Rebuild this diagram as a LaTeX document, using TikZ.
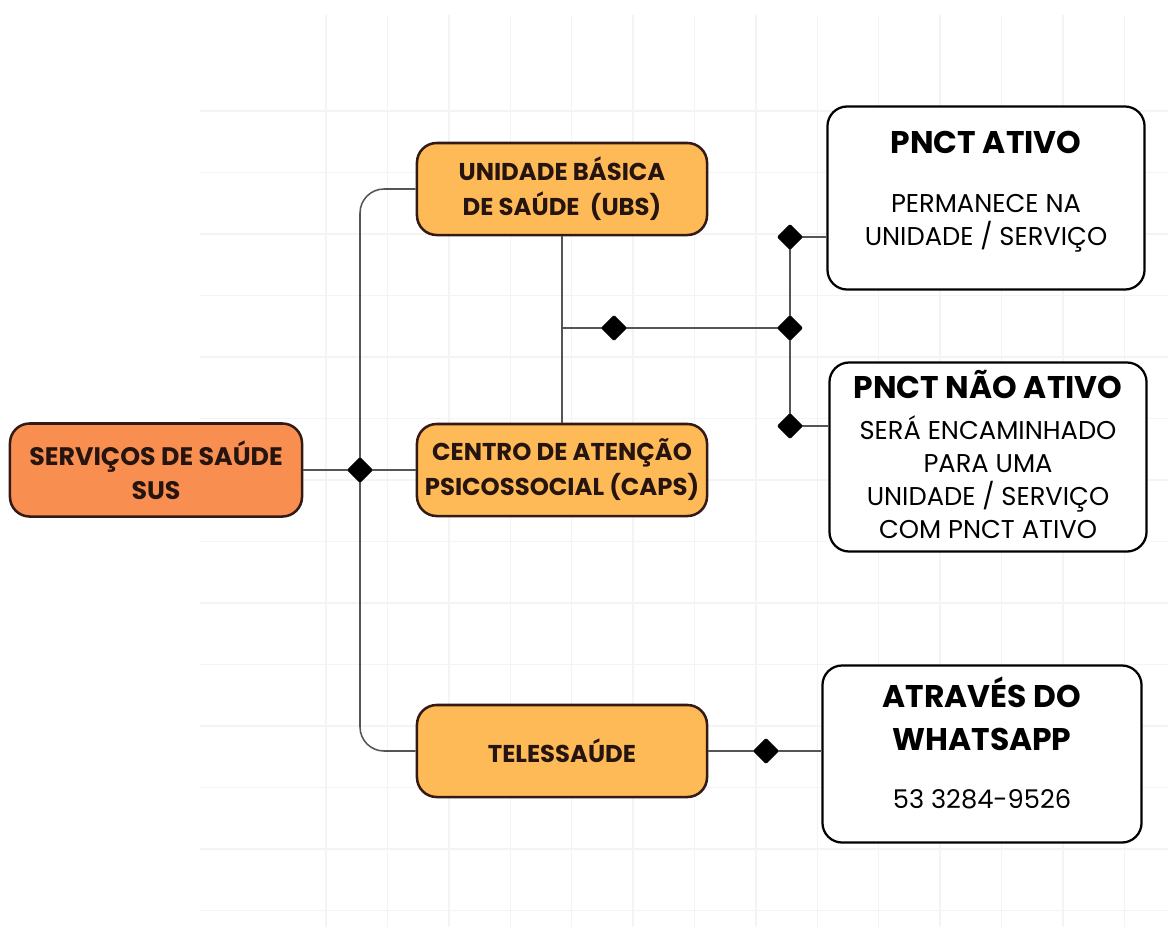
\documentclass[tikz,border=0pt]{standalone}
\usepackage{fontspec}
\setmainfont{Poppins}
\usetikzlibrary{shapes.geometric}
\definecolor{rootorange}{RGB}{248,143,80}
\definecolor{midorange}{RGB}{255,186,88}
\definecolor{boxline}{RGB}{52,26,20}
\definecolor{textbrown}{RGB}{38,20,16}
\definecolor{connline}{RGB}{85,85,85}
\definecolor{gridgray}{RGB}{244,244,244}
\begin{document}
\begin{tikzpicture}
  [x=0.025cm,y=-0.025cm,every node/.style={align=center,inner sep=0pt}]
  \tikzstyle{rootbox} = [draw=boxline,line width=1.8pt,rounded corners=14pt,fill=rootorange,text=textbrown,minimum width=7.3cm,minimum height=2.325cm,font=\fontsize{18}{24}\selectfont\bfseries]
  \tikzstyle{midbox} = [rootbox,fill=midorange,minimum width=7.25cm,minimum height=2.3cm,font=\fontsize{17.3}{25}\selectfont\bfseries]
  \tikzstyle{infobox} = [draw=black,line width=1.6pt,rounded corners=14pt,fill=white,minimum width=7.925cm]
  \tikzstyle{headtext} = [font=\fontsize{22.3}{30.5}\selectfont\bfseries]
  \tikzstyle{bodytext} = [font=\fontsize{18.3}{23.5}\selectfont]
  \tikzstyle{conn} = [draw=connline,line width=1.1pt]
  \tikzstyle{joint} = [diamond,fill=black,minimum size=0.66cm,rounded corners=1pt]
  \useasboundingbox (0,0) rectangle (1168,927);
  % background grid
  \foreach \k in {0,...,13} {
    \draw[gridgray,line width=1pt] (326+61.4*\k,15) -- (326+61.4*\k,927);
    \draw[gridgray,line width=1pt] (200,111+61.5*\k) -- (1168,111+61.5*\k);
  }
  % boxes
  \node[rootbox] (sus)  at (156,470) {SERVIÇOS DE SAÚDE\\SUS};
  \node[midbox]  (ubs)  at (562,189) {UNIDADE BÁSICA\\DE SAÚDE\ \ (UBS)};
  \node[midbox]  (caps) at (562,470) {CENTRO DE ATENÇÃO\\PSICOSSOCIAL (CAPS)};
  \node[midbox]  (tele) at (562,751) {TELESSAÚDE};
  \node[infobox,minimum height=4.575cm] (ativo) at (986,198) {};
  \node[infobox,minimum height=4.725cm] (nao)   at (988,457) {};
  \node[infobox,minimum height=4.425cm,minimum width=7.975cm] (whats) at (982,754) {};
  % box texts
  \node[headtext] (ativoT) at (986,142.5) {PNCT ATIVO};
  \node[bodytext] (ativoB) at (986,223) {PERMANECE NA\\UNIDADE / SERVIÇO};
  \node[headtext] (naoT)   at (988,385) {PNCT NÃO ATIVO};
  \node[bodytext] (naoB)   at (988,477) {SERÁ ENCAMINHADO\\PARA UMA\\UNIDADE / SERVIÇO\\COM PNCT ATIVO};
  \node[headtext] (whatsT) at (982,714) {ATRAVÉS DO\\WHATSAPP};
  \node[bodytext] (whatsB) at (982,799) {53 3284-9526};
  % junctions
  \coordinate (jsus)   at (360,470);
  \coordinate (jstem)  at (562,328);
  \coordinate (jmid)   at (614,328);
  \coordinate (jhub)   at (790,328);
  \coordinate (jativo) at (790,237);
  \coordinate (jnao)   at (790,426);
  \coordinate (jtele)  at (766,751);
  % connectors
  \draw[conn] (sus) -- (caps);
  \draw[conn,rounded corners=0.6cm] (ubs.west) -| (jsus) |- (tele.west);
  \draw[conn] (ubs) -- (caps);
  \draw[conn] (jstem) -- (jhub);
  \draw[conn] (jativo) -- (jnao);
  \draw[conn] (jativo) -- (ativo.west |- jativo);
  \draw[conn] (jnao) -- (nao.west |- jnao);
  \draw[conn] (tele.east) -- (tele.east -| whats.west);
  \foreach \j in {jsus,jmid,jhub,jativo,jnao,jtele}
    \node[joint] (d\j) at (\j) {};
\end{tikzpicture}
\end{document}
